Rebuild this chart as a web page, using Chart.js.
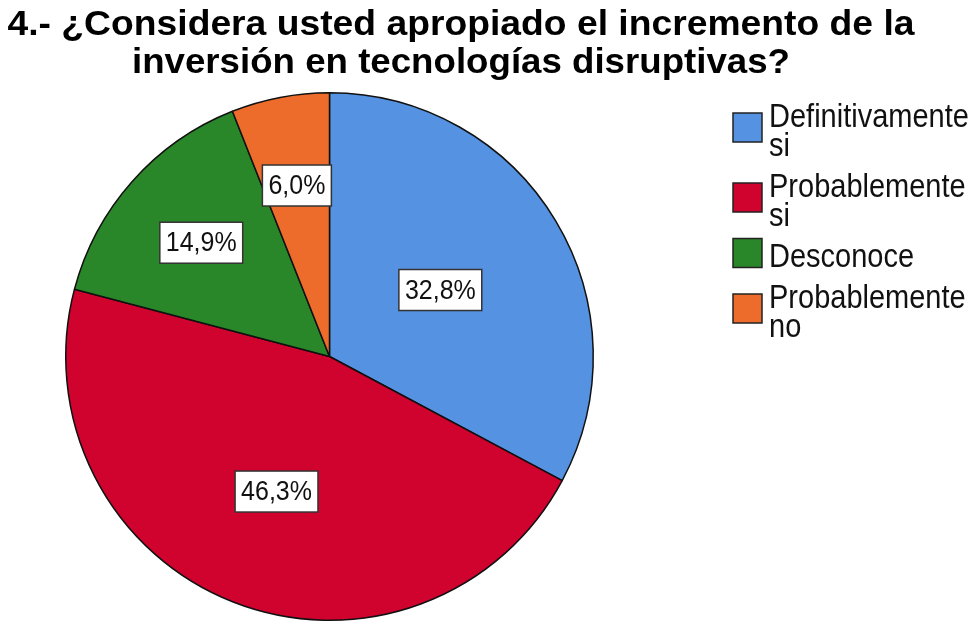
<!DOCTYPE html>
<html>
<head>
<meta charset="utf-8">
<script src="https://cdn.jsdelivr.net/npm/chart.js@4/dist/chart.umd.min.js"></script>
<style>
  html, body { margin: 0; padding: 0; background: #ffffff; }
  #wrap { width: 977px; height: 627px; position: relative; }
</style>
</head>
<body>
<div id="wrap"><canvas id="c" width="977" height="627"></canvas></div>
<script>
// ---- Data ----
const titleLines = ["4.- ¿Considera usted apropiado el incremento de la", "inversión en tecnologías disruptivas?"];
const categories = ["Definitivamente si", "Probablemente si", "Desconoce", "Probablemente no"];
const legendLines = [["Definitivamente", "si"], ["Probablemente", "si"], ["Desconoce"], ["Probablemente", "no"]];
const percentages = [32.8, 46.3, 14.9, 6.0];
const sliceColors = ["#5592E2", "#D0022E", "#2A8729", "#EE6C2B"];

const FONT = '"Liberation Sans", Arial, Helvetica, sans-serif';

const titlePlugin = {
  id: 'customTitle',
  afterDraw(chart) {
    const ctx = chart.ctx;
    ctx.save();
    ctx.fillStyle = '#000';
    ctx.textAlign = 'center';
    ctx.textBaseline = 'alphabetic';
    ctx.font = 'bold 34px ' + FONT;
    const baselines = [35, 73];
    const targets = [907, 658];
    titleLines.forEach((t, i) => {
      const w = ctx.measureText(t).width;
      const sx = targets[i] / w;
      ctx.save();
      ctx.translate(461, baselines[i]);
      ctx.scale(sx, 1.04);
      ctx.fillText(t, 0, 0);
      ctx.restore();
    });
    ctx.restore();
  }
};

const labelPlugin = {
  id: 'boxLabels',
  afterDatasetsDraw(chart, args, opts) {
    const ctx = chart.ctx;
    const meta = chart.getDatasetMeta(0);
    ctx.save();
    ctx.font = '25px ' + FONT;
    ctx.textAlign = 'center';
    ctx.textBaseline = 'middle';
    meta.data.forEach((arc, i) => {
      const p = arc.getProps(['x', 'y', 'startAngle', 'endAngle', 'outerRadius'], true);
      const mid = (p.startAngle + p.endAngle) / 2;
      const r = p.outerRadius * opts.radial[i];
      const cx = p.x + Math.cos(mid) * r;
      const cy = p.y + Math.sin(mid) * r;
      const txt = percentages[i].toFixed(1).replace('.', ',') + '%';
      const tw = ctx.measureText(txt).width;
      const bw = tw + 12, bh = 41;
      ctx.fillStyle = '#ffffff';
      ctx.fillRect(cx - bw / 2, cy - bh / 2, bw, bh);
      ctx.lineWidth = 1.5;
      ctx.strokeStyle = '#333333';
      ctx.strokeRect(cx - bw / 2, cy - bh / 2, bw, bh);
      ctx.fillStyle = '#111111';
      ctx.save();
      ctx.translate(cx, cy + 1);
      ctx.scale(1, 1.1);
      ctx.fillText(txt, 0, 0);
      ctx.restore();
    });
    ctx.restore();
  }
};

const legendPlugin = {
  id: 'customLegend',
  afterDraw(chart) {
    const ctx = chart.ctx;
    ctx.save();
    ctx.font = '29px ' + FONT;
    ctx.textAlign = 'left';
    ctx.textBaseline = 'alphabetic';
    const lineH = 29, itemGap = 12, capH = 24;
    let base = 127;
    legendLines.forEach((lines, i) => {
      const first = base;
      lines.forEach((ln, j) => {
        ctx.fillStyle = '#111111';
        ctx.save();
        ctx.translate(769, base + j * lineH);
        ctx.scale(1, 1.13);
        ctx.fillText(ln, 0, 0);
        ctx.restore();
      });
      const last = base + (lines.length - 1) * lineH;
      const centerY = (first - capH + last) / 2 - 2;
      const s = 29;
      ctx.fillStyle = sliceColors[i];
      ctx.fillRect(733, centerY - s / 2, s, s);
      ctx.lineWidth = 1.5;
      ctx.strokeStyle = '#222222';
      ctx.strokeRect(733, centerY - s / 2, s, s);
      base = last + lineH + itemGap;
    });
    ctx.restore();
  }
};

new Chart(document.getElementById('c'), {
  type: 'pie',
  data: {
    labels: categories,
    datasets: [{
      data: percentages,
      backgroundColor: sliceColors,
      borderColor: '#111111',
      borderWidth: 1.5
    }]
  },
  options: {
    responsive: false,
    animation: false,
    events: [],
    layout: { padding: { left: 65, right: 383, top: 92, bottom: 6 } },
    plugins: {
      legend: { display: false },
      title: { display: false },
      tooltip: { enabled: false },
      boxLabels: { radial: [0.49, 0.55, 0.65, 0.66] }
    }
  },
  plugins: [titlePlugin, labelPlugin, legendPlugin]
});
</script>
</body>
</html>
